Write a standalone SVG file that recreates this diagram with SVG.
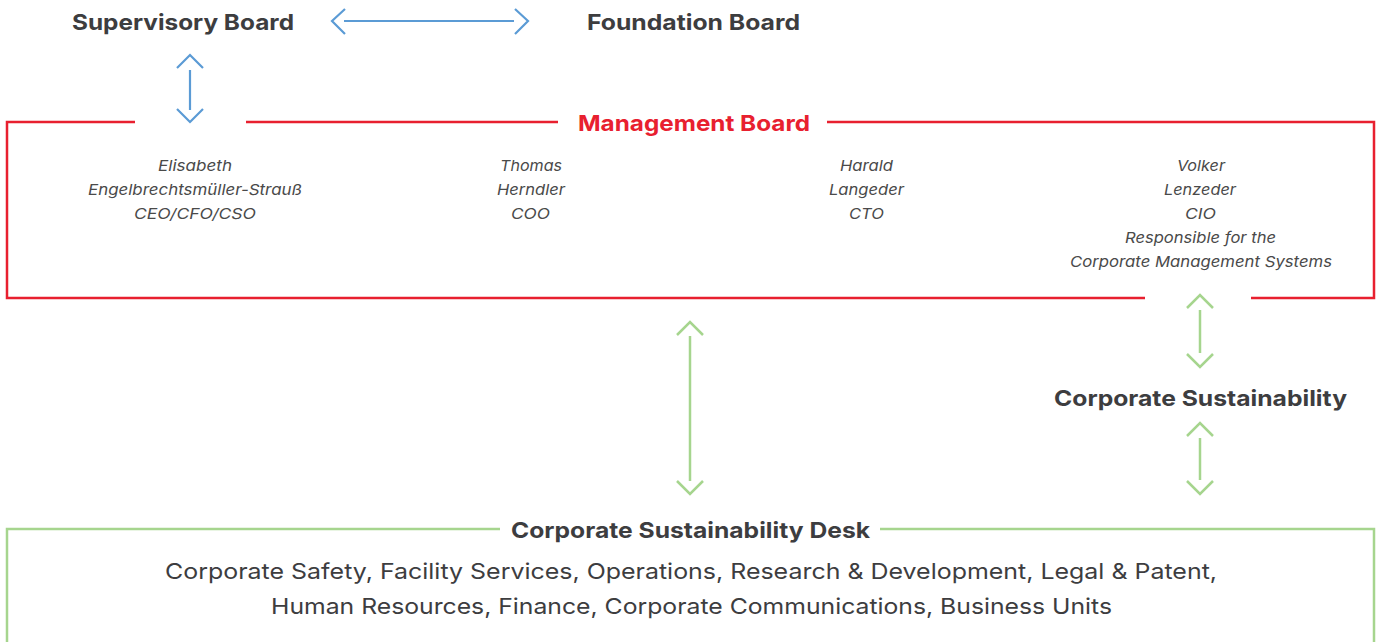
<svg xmlns="http://www.w3.org/2000/svg" width="1377" height="642" viewBox="0 0 1377 642">
<style>
.h{font-family:Inter,"Liberation Sans",sans-serif;font-weight:700;font-size:22px;fill:#3d3d3f;text-anchor:middle}
.r{fill:#e8202f}
.n{font-family:Inter,"Liberation Sans",sans-serif;font-style:italic;font-size:15px;fill:#4a4a4a;text-anchor:middle}
.b{font-family:Inter,"Liberation Sans",sans-serif;font-size:22px;fill:#3d3d3f;text-anchor:middle}
.blue{stroke:#5b9bd5;stroke-width:2.2;fill:none}
.green{stroke:#a6d58e;stroke-width:2.5;fill:none}
.red{stroke:#e8202f;stroke-width:2.5;fill:none}
</style>
<rect width="1377" height="642" fill="#fff"/>
<g id="supervisory-board"><text class="h" x="183" y="30" textLength="222" lengthAdjust="spacingAndGlyphs">Supervisory Board</text></g>
<g id="foundation-board"><text class="h" x="693.5" y="30" textLength="213" lengthAdjust="spacingAndGlyphs">Foundation Board</text></g>
<g id="management-board">
<path class="red" d="M135 122H7V298H1145M1251 298H1374V122H827M558 122H246"/>
<text class="h r" x="694" y="131" textLength="232" lengthAdjust="spacingAndGlyphs">Management Board</text>
<g class="n">
<text class="n" x="195" y="171" textLength="74" lengthAdjust="spacingAndGlyphs">Elisabeth</text>
<text class="n" x="195" y="195" textLength="214" lengthAdjust="spacingAndGlyphs">Engelbrechtsmüller-Strauß</text>
<text class="n" x="195" y="219" textLength="122" lengthAdjust="spacingAndGlyphs">CEO/CFO/CSO</text>
<text class="n" x="531" y="171" textLength="62" lengthAdjust="spacingAndGlyphs">Thomas</text>
<text class="n" x="531" y="195" textLength="68" lengthAdjust="spacingAndGlyphs">Herndler</text>
<text class="n" x="530.5" y="219" textLength="39" lengthAdjust="spacingAndGlyphs">COO</text>
<text class="n" x="866.5" y="171" textLength="53" lengthAdjust="spacingAndGlyphs">Harald</text>
<text class="n" x="866.5" y="195" textLength="75" lengthAdjust="spacingAndGlyphs">Langeder</text>
<text class="n" x="866.5" y="219" textLength="35" lengthAdjust="spacingAndGlyphs">CTO</text>
<text class="n" x="1201" y="171" textLength="48" lengthAdjust="spacingAndGlyphs">Volker</text>
<text class="n" x="1200" y="195" textLength="72" lengthAdjust="spacingAndGlyphs">Lenzeder</text>
<text class="n" x="1200.5" y="219" textLength="31" lengthAdjust="spacingAndGlyphs">CIO</text>
<text class="n" x="1200.5" y="243" textLength="151" lengthAdjust="spacingAndGlyphs">Responsible for the</text>
<text class="n" x="1201" y="267" textLength="262" lengthAdjust="spacingAndGlyphs">Corporate Management Systems</text>
</g>
</g>
<g id="corporate-sustainability"><text class="h" x="1200.5" y="406" textLength="293" lengthAdjust="spacingAndGlyphs">Corporate Sustainability</text></g>
<g id="corporate-sustainability-desk">
<path class="green" d="M500 529H7V650M1374 650V529H880"/>
<text class="h" x="690.5" y="538" textLength="359" lengthAdjust="spacingAndGlyphs">Corporate Sustainability Desk</text>
<text class="b" x="691" y="579" textLength="1052" lengthAdjust="spacingAndGlyphs">Corporate Safety, Facility Services, Operations, Research &amp; Development, Legal &amp; Patent,</text>
<text class="b" x="691.5" y="614" textLength="841" lengthAdjust="spacingAndGlyphs">Human Resources, Finance, Corporate Communications, Business Units</text>
</g>
<g id="connectors">
<path class="blue" d="M345 9L332 21L345 34M344 21H514M515 9L528 21L515 34"/>
<path class="blue" d="M177 68L190 55L203 68M190 70V110M177 109L190 122L203 109"/>
<path class="green" d="M677 335L690 322L703 335M690 336V481M677 481L690 494L703 481"/>
<path class="green" d="M1187 308L1200 295L1213 308M1200 310V353M1187 354L1200 367L1213 354"/>
<path class="green" d="M1187 436L1200 423L1213 436M1200 438V480M1187 481L1200 494L1213 481"/>
</g>
</svg>
